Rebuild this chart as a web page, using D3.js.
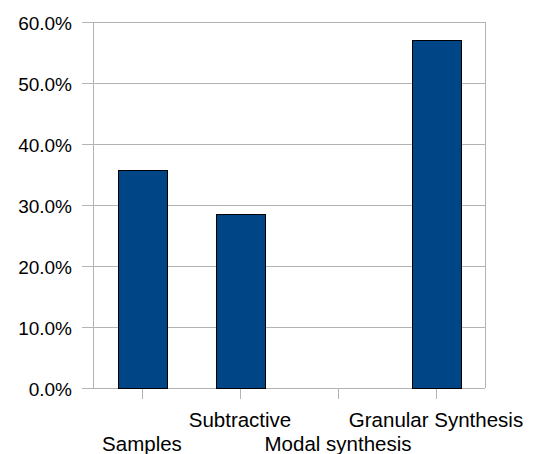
<!DOCTYPE html>
<html><head><meta charset="utf-8">
<script src="https://cdn.jsdelivr.net/npm/d3@7"></script>
<style>body{margin:0;background:#fff}svg{display:block}text{font-family:"Liberation Sans",Arial,sans-serif;fill:#000}</style>
</head><body>
<svg id="c" width="533" height="454"></svg>
<script>
const categories = ["Samples", "Subtractive", "Modal synthesis", "Granular Synthesis"];
const values = [0.357, 0.286, 0, 0.571];
const yTicks = [0, 0.1, 0.2, 0.3, 0.4, 0.5, 0.6];

const svg = d3.select("#c");
const m = {l: 93, r: 48, t: 22, b: 66};
const W = 533, H = 454;
const x = d3.scaleBand().domain(categories).range([m.l, W - m.r]).paddingInner(0.5).paddingOuter(0.25);
const xc = d3.scaleBand().domain(categories).range([m.l, W - m.r]);
const y = d3.scaleLinear().domain([0, 0.6]).range([H - m.b, m.t]);

const grid = "#b3b3b3";
// gridlines
svg.append("g").selectAll("line").data(yTicks).join("line")
  .attr("x1", m.l - 11).attr("x2", W - m.r)
  .attr("y1", d => Math.round(y(d)) + 0.5).attr("y2", d => Math.round(y(d)) + 0.5)
  .attr("stroke", grid).attr("stroke-width", 1);
// left axis line and right border
svg.append("line").attr("x1", m.l + 0.5).attr("x2", m.l + 0.5).attr("y1", m.t).attr("y2", H - m.b)
  .attr("stroke", grid);
svg.append("line").attr("x1", W - m.r + 0.5).attr("x2", W - m.r + 0.5).attr("y1", m.t).attr("y2", H - m.b)
  .attr("stroke", grid);
// y labels
svg.append("g").selectAll("text").data(yTicks).join("text")
  .attr("x", 72).attr("y", d => y(d) + 8)
  .attr("text-anchor", "end").attr("font-size", 19)
  .text(d => d3.format(".1%")(d));
// x ticks
svg.append("g").selectAll("line").data(categories).join("line")
  .attr("x1", d => Math.round(xc(d) + xc.bandwidth() / 2) + 0.5)
  .attr("x2", d => Math.round(xc(d) + xc.bandwidth() / 2) + 0.5)
  .attr("y1", H - m.b).attr("y2", H - m.b + 11)
  .attr("stroke", grid);
// bars
svg.append("g").selectAll("rect").data(categories).join("rect")
  .attr("x", d => Math.round(x(d)) + 0.5)
  .attr("y", (d, i) => Math.round(y(values[i])) + 0.5)
  .attr("width", x.bandwidth())
  .attr("height", (d, i) => Math.round(y(0)) - Math.round(y(values[i])))
  .attr("fill", "#004586").attr("stroke", "#000").attr("stroke-width", 1)
  .style("display", (d, i) => values[i] > 0 ? null : "none");
// x labels (staggered)
svg.append("g").selectAll("text").data(categories).join("text")
  .attr("x", d => xc(d) + xc.bandwidth() / 2)
  .attr("y", (d, i) => i % 2 === 0 ? 451 : 427)
  .attr("text-anchor", "middle").attr("font-size", 20.5)
  .text(d => d);
</script>
</body></html>
